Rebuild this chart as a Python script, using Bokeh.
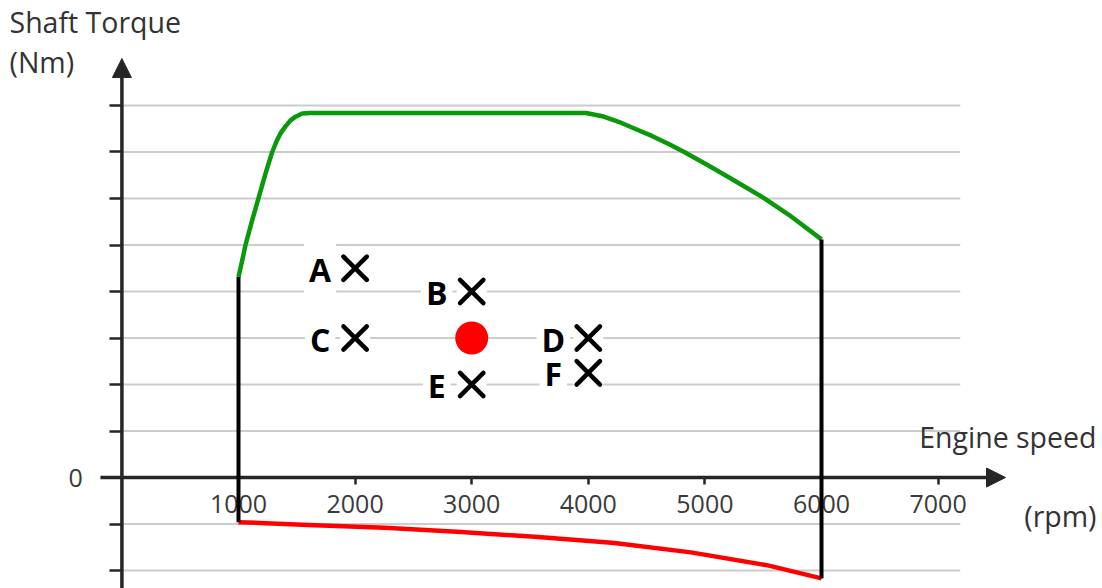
from bokeh.plotting import figure
from bokeh.models import (Range1d, LinearAxis, FixedTicker, Arrow, NormalHead, Label)
from bokeh.core.properties import value
from bokeh.embed import file_html
from bokeh.resources import INLINE

# ---- data ----
green_rpm = [1000, 1032, 1060, 1117, 1174, 1232, 1289, 1326, 1360, 1403, 1446, 1489, 1546, 1617,
             3980, 4120, 4260, 4400, 4550, 4690, 4830, 5030, 5230, 5500, 5720, 6000]
green_torque = [4.31, 4.67, 5.0, 5.53, 6.03, 6.54, 7.0, 7.23, 7.40, 7.55, 7.68, 7.76, 7.83, 7.84,
                7.84, 7.77, 7.65, 7.50, 7.34, 7.17, 6.99, 6.71, 6.42, 6.02, 5.65, 5.12]

red_rpm = [1000, 1600, 2255, 2910, 3570, 4225, 4880, 5540, 6000]
red_torque = [-0.96, -1.02, -1.08, -1.17, -1.28, -1.41, -1.61, -1.89, -2.17]

pt_labels = ["A", "B", "C", "D", "E", "F"]
pt_rpm = [2000, 3000, 2000, 4000, 3000, 4000]
pt_torque = [4.5, 4.0, 3.0, 3.0, 2.0, 2.25]

op_rpm = [3000]
op_torque = [3.0]

x_ticks = [1000, 2000, 3000, 4000, 5000, 6000, 7000]
y_ticks = [-2, -1, 0, 1, 2, 3, 4, 5, 6, 7, 8]
grid_values = [-2, -1, 1, 2, 3, 4, 5, 6, 7, 8]
grid_x_end = 7190
x_arrow = (-184, 7578)
y_arrow = (-2.6, 9.01)

FONT_NAME = "Open Sans"
FONT = value(FONT_NAME)
GREEN = "#0a990a"
AXIS = "#262626"

W, H = 1102, 588
p = figure(width=W, height=H, output_backend="svg", toolbar_location=None,
           x_axis_type=None, y_axis_type=None,
           x_range=Range1d(-1041.2, 8409.9), y_range=Range1d(-2.387, 10.258),
           min_border=0, outline_line_color=None)
p.background_fill_color = "white"

# grid lines
p.segment(x0=[0] * len(grid_values), y0=grid_values,
          x1=[grid_x_end] * len(grid_values), y1=grid_values,
          line_color="#cccccc", line_width=2)

# white backing behind markers and letters (breaks the grid lines)
p.scatter(pt_rpm, pt_torque, marker="square", size=30, fill_color="white", line_color=None)
label_kw = dict(x_offset=-35, y_offset=1, text_align="center", text_baseline="middle",
                text_font=FONT, text_font_style="bold", text_font_size="32px")
p.text(x=pt_rpm, y=pt_torque, text=pt_labels, text_alpha=0,
       background_fill_color="white", padding=5, **label_kw)

# curves
p.line(green_rpm, green_torque, line_color=GREEN, line_width=4.5, line_join="round")
p.line(red_rpm, red_torque, line_color="#ff0000", line_width=4.5, line_join="round")

# vertical speed limits
p.segment(x0=[green_rpm[0], green_rpm[-1]], y0=[red_torque[0], red_torque[-1]],
          x1=[green_rpm[0], green_rpm[-1]], y1=[green_torque[0], green_torque[-1]],
          line_color="black", line_width=4, level="overlay")

# axes (ticks + labels) fixed at zero
xaxis = LinearAxis(fixed_location=0, ticker=FixedTicker(ticks=x_ticks),
                   axis_line_color=None, major_tick_out=7, major_tick_in=0,
                   major_tick_line_color=AXIS, major_tick_line_width=2.5,
                   minor_tick_line_color=None, major_label_standoff=10,
                   major_label_text_font=FONT_NAME, major_label_text_font_size="25px",
                   major_label_text_color="#3a3a3a")
p.add_layout(xaxis, "below")

yaxis = LinearAxis(fixed_location=0, ticker=FixedTicker(ticks=y_ticks),
                   axis_line_color=None, major_tick_out=12, major_tick_in=0,
                   major_tick_line_color=AXIS, major_tick_line_width=2.5,
                   minor_tick_line_color=None, major_label_standoff=27,
                   major_label_overrides={t: ("0" if t == 0 else "") for t in y_ticks},
                   major_label_text_font=FONT_NAME, major_label_text_font_size="25px",
                   major_label_text_color="#3a3a3a")
p.add_layout(yaxis, "left")

# axis arrows
p.add_layout(Arrow(x_start=x_arrow[0], y_start=0, x_end=x_arrow[1], y_end=0,
                   line_color=AXIS, line_width=3.5,
                   end=NormalHead(size=19, fill_color=AXIS, line_color=AXIS, line_width=1)))
p.add_layout(Arrow(x_start=0, y_start=y_arrow[0], x_end=0, y_end=y_arrow[1],
                   line_color=AXIS, line_width=3.5,
                   end=NormalHead(size=19, fill_color=AXIS, line_color=AXIS, line_width=1)))

# operating points
p.scatter(pt_rpm, pt_torque, marker="x", size=33, line_color="black", line_width=4.5, line_cap="round")
p.scatter(op_rpm, op_torque, marker="circle", size=33, fill_color="#ff0000", line_color=None)
p.text(x=pt_rpm, y=pt_torque, text=pt_labels, text_color="black", **label_kw)

# axis titles (screen y measured from the bottom)
title_kw = dict(x_units="screen", y_units="screen", text_font=FONT_NAME,
                text_font_size="28.5px", text_color="#333333", text_baseline="alphabetic")
p.add_layout(Label(x=9, y=H - 21, text="Shaft Torque", text_align="left", **title_kw))
p.add_layout(Label(x=9, y=H - 61, text="(Nm)", text_align="left", **title_kw))
p.add_layout(Label(x=1096, y=H - 436, text="Engine speed", text_align="right", **title_kw))
p.add_layout(Label(x=1096, y=H - 515, text="(rpm)", text_align="right", **title_kw))

open("out.html", "w").write(file_html(p, INLINE))
